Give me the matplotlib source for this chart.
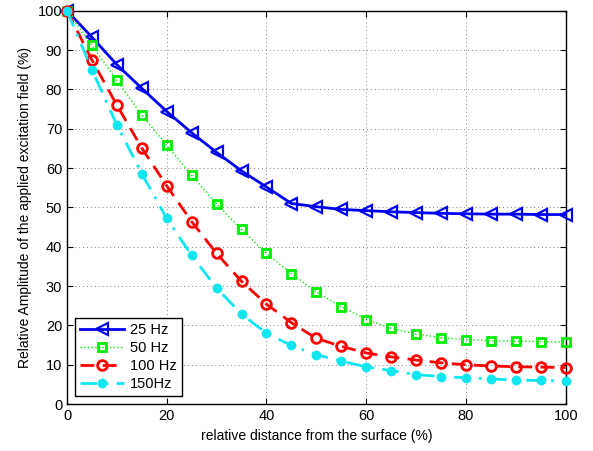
import matplotlib
matplotlib.use("Agg")
import matplotlib.pyplot as plt

x = [0, 5, 10, 15, 20, 25, 30, 35, 40, 45, 50, 55, 60, 65, 70, 75, 80, 85, 90, 95, 100]
hz25 = [100, 93.3, 86.3, 80.3, 74.4, 69.0, 64.0, 59.3, 55.2, 51.0, 50.2, 49.5, 49.2, 48.9, 48.7, 48.5, 48.4, 48.3, 48.3, 48.2, 48.2]
hz50 = [100, 91.2, 82.3, 73.5, 65.8, 58.2, 50.9, 44.4, 38.3, 33.2, 28.5, 24.8, 21.5, 19.3, 17.8, 16.9, 16.4, 16.1, 16.0, 15.9, 15.8]
hz100 = [100, 87.5, 76.0, 65.1, 55.5, 46.4, 38.3, 31.2, 25.4, 20.7, 16.7, 14.7, 13.0, 12.0, 11.2, 10.5, 10.0, 9.7, 9.5, 9.4, 9.3]
hz150 = [100, 85.0, 71.0, 58.6, 47.2, 37.8, 29.5, 22.9, 18.0, 14.9, 12.6, 10.9, 9.5, 8.5, 7.5, 7.0, 6.7, 6.4, 6.1, 6.0, 5.9]
labels = ["25 Hz", "50 Hz", "100 Hz", "150Hz"]

plt.rcParams['font.family'] = ['Liberation Sans', 'DejaVu Sans']
plt.rcParams['font.size'] = 10

fig = plt.figure(figsize=(5.93, 4.51), dpi=100)
ax = fig.add_axes([0.113, 0.104, 0.841, 0.872])

blue = '#0000f0'
green = '#00ee00'
red = '#ff0000'
cyan = '#10e6f0'

ax.plot(x, hz25, color=blue, lw=2, marker='<', ms=8, mfc='none', mew=1.6, label=labels[0], clip_on=False, zorder=3)
ax.plot(x, hz50, color=green, lw=1, ls=':', marker='s', ms=6, mfc='none', mew=2, label=labels[1], clip_on=False, zorder=3)
ax.plot(x, hz100, color=red, lw=2, ls='--', dashes=(5, 3), marker='o', ms=7, mfc='none', mew=2, label=labels[2], clip_on=False, zorder=3)
ax.plot(x, hz150, color=cyan, lw=2, ls='-.', dashes=(6, 3, 1, 3), marker='o', ms=6, mfc=cyan, mec=cyan, label=labels[3], clip_on=False, zorder=3)

ax.set_xlim(0, 100)
ax.set_ylim(0, 100)
ax.set_xticks(range(0, 101, 20))
ax.set_yticks(range(0, 101, 10))
ax.grid(True, ls=(0, (1, 3)), color='#808080', lw=0.7)
ax.tick_params(direction='in', top=True, right=True, length=4, labelsize=10.5)
for s in ax.spines.values():
    s.set_linewidth(1)
ax.set_xlabel('relative distance from the surface (%)', fontsize=10)
ax.set_ylabel('Relative Amplitude of the applied excitation field (%)', fontsize=10)

leg = ax.legend(loc='lower left', fancybox=False, edgecolor='black', framealpha=1, fontsize=10.5,
                handlelength=3.0, handletextpad=0.4, borderpad=0.35, labelspacing=0.28,
                borderaxespad=0.55)
leg.get_frame().set_linewidth(1)

fig.savefig('out.png', dpi=100)
